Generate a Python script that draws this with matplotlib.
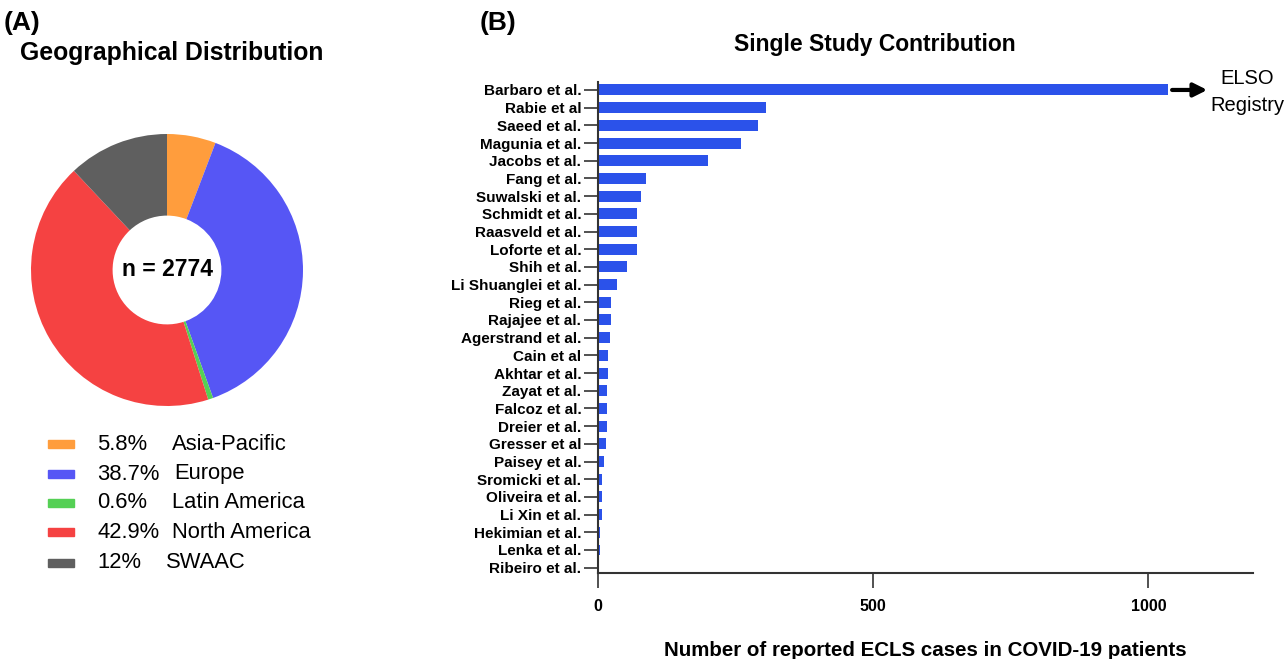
import matplotlib
matplotlib.use("Agg")
import matplotlib.pyplot as plt
from matplotlib.patches import Rectangle

# ---------------- data ----------------
regions = ["Asia-Pacific", "Europe", "Latin America", "North America", "SWAAC"]
region_pct = [5.8, 38.7, 0.6, 42.9, 12.0]
region_pct_labels = ["5.8%", "38.7%", "0.6%", "42.9%", "12%"]
region_colors = ["#FF9D3D", "#5656F5", "#55D055", "#F54242", "#5F5F5F"]
total_n = 2774

studies = ["Barbaro et al.", "Rabie et al", "Saeed et al.", "Magunia et al.", "Jacobs et al.",
           "Fang et al.", "Suwalski et al.", "Schmidt et al.", "Raasveld et al.", "Loforte et al.",
           "Shih et al.", "Li Shuanglei et al.", "Rieg et al.", "Rajajee et al.", "Agerstrand et al.",
           "Cain et al", "Akhtar et al.", "Zayat et al.", "Falcoz et al.", "Dreier et al.",
           "Gresser et al", "Paisey et al.", "Sromicki et al.", "Oliveira et al.", "Li Xin et al.",
           "Hekimian et al.", "Lenka et al.", "Ribeiro et al."]
cases = [1035, 305, 290, 259, 199,
         87, 78, 70, 70, 70,
         53, 34, 23, 23, 21,
         18, 18, 17, 17, 16,
         14, 10, 8, 8, 7,
         4, 3, 1]
x_ticks = [0, 500, 1000]

W, H = 1284, 659
fig = plt.figure(figsize=(W / 100, H / 100), dpi=100)

arial = ["Liberation Sans", "DejaVu Sans"]

def fx(px):
    return px / W

def fy(py):
    return 1 - py / H

# ---------------- (A) donut ----------------
cx, cy, r = 167, 270, 136
axp = fig.add_axes([fx(cx - r), fy(cy + r), 2 * r / W, 2 * r / H])
axp.pie(region_pct, colors=region_colors, startangle=90, counterclock=False,
        radius=1.0, wedgeprops=dict(width=0.6, linewidth=0))
axp.set_xlim(-1, 1)
axp.set_ylim(-1, 1)
axp.set_aspect("equal")
axp.axis("off")
axp.text(0, 0, f"n = {total_n}", ha="center", va="center", fontsize=16.5,
         fontweight="bold", family=arial)

fig.text(fx(4), fy(23), "(A)", fontsize=19, fontweight="bold", family=arial,
         ha="left", va="center")
fig.text(fx(20), fy(53), "Geographical Distribution", fontsize=17.8, fontweight="bold",
         family=arial, ha="left", va="center")

# legend (manual)
row_y = [444, 474, 503, 532, 563]
name_x = [172, 174, 172, 172, 166]
for yy, lab, name, col, nx in zip(row_y, region_pct_labels, regions, region_colors, name_x):
    fig.patches.append(Rectangle((fx(48), fy(yy + 4)), 26 / W, 8 / H,
                                 transform=fig.transFigure, color=col))
    fig.text(fx(97), fy(yy), lab, fontsize=15.8, family=arial, ha="left", va="center")
    fig.text(fx(nx), fy(yy), name, fontsize=15.8, family=arial, ha="left", va="center")

# ---------------- (B) bars ----------------
left, right, top, bottom = 598, 1253, 82, 573
axb = fig.add_axes([fx(left), fy(bottom), (right - left) / W, (bottom - top) / H])
ypos = list(range(len(studies)))
axb.barh(ypos, cases, height=0.62, color="#2B52EA", edgecolor="none")
axb.set_ylim(len(studies) - 0.7, -0.45)
axb.set_xlim(0, 1190)
axb.set_yticks(ypos)
axb.set_yticklabels(studies, fontsize=11, fontweight="bold", family=arial)
axb.set_xticks(x_ticks)
axb.set_xticklabels([str(t) for t in x_ticks], fontsize=11.5, fontweight="bold", family=arial)
axb.tick_params(axis="y", length=10, width=1.2, color="#333333", pad=2)
axb.tick_params(axis="x", length=11, width=1.2, color="#333333", pad=8)
for s in ["top", "right"]:
    axb.spines[s].set_visible(False)
for s in ["left", "bottom"]:
    axb.spines[s].set_linewidth(1.5)
    axb.spines[s].set_color("#333333")
axb.set_xlabel("Number of reported ECLS cases in COVID-19 patients", fontsize=14.8,
               fontweight="bold", family=arial, labelpad=19)

fig.text(fx(875), fy(44), "Single Study Contribution", fontsize=16.5, fontweight="bold",
         family=arial, ha="center", va="center")

# arrow & ELSO text
axb.annotate("", xy=(1112, 0), xytext=(1038, 0), xycoords="data",
             arrowprops=dict(arrowstyle="-|>", color="black", lw=3, mutation_scale=20),
             annotation_clip=False)
fig.text(fx(1247), fy(92), "ELSO\nRegistry", fontsize=14.5, family=arial, ha="center",
         va="center", linespacing=1.55)

fig.text(fx(480), fy(23), "(B)", fontsize=19, fontweight="bold", family=arial,
         ha="left", va="center")

fig.savefig("out.png", dpi=100)
